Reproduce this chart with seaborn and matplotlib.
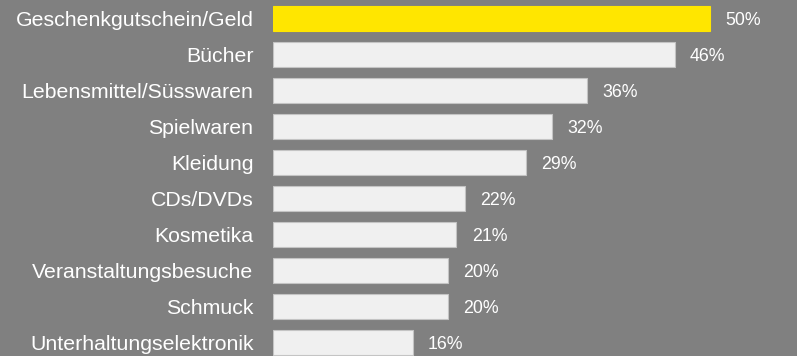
import matplotlib
matplotlib.use("Agg")
import matplotlib.pyplot as plt
import seaborn as sns
import pandas as pd

categories = [
    "Geschenkgutschein/Geld",
    "Bücher",
    "Lebensmittel/Süsswaren",
    "Spielwaren",
    "Kleidung",
    "CDs/DVDs",
    "Kosmetika",
    "Veranstaltungsbesuche",
    "Schmuck",
    "Unterhaltungselektronik",
]
values = [50, 46, 36, 32, 29, 22, 21, 20, 20, 16]
value_labels = ["50%", "46%", "36%", "32%", "29%", "22%", "21%", "20%", "20%", "16%"]

BG = "#808080"
HIGHLIGHT = "#ffe600"
BAR = "#f0f0f0"

sns.set_theme(style="white")
plt.rcParams["font.family"] = ["Liberation Sans", "DejaVu Sans"]

df = pd.DataFrame({"category": categories, "value": values})
palette = {c: (HIGHLIGHT if i == 0 else BAR) for i, c in enumerate(categories)}

fig = plt.figure(figsize=(7.97, 3.56), dpi=100, facecolor=BG)
ax = fig.add_axes([273 / 797, 0, 1 - 273 / 797, 1])
ax.set_facecolor(BG)

sns.barplot(data=df, x="value", y="category", hue="category", palette=palette,
            legend=False, orient="h", width=0.68, ax=ax, saturation=1)

for i, patch in enumerate(ax.patches):
    patch.set_edgecolor(HIGHLIGHT if i == 0 else "#c4c4c4")
    patch.set_linewidth(0.8)

for container, lab in zip(ax.containers, value_labels):
    texts = ax.bar_label(container, labels=[lab], padding=11, color="white", fontsize=12.8)
    for t in texts:
        dx, dy = t.xyann
        t.xyann = (dx, dy - 1.5)

ax.set_xlim(0, 60)
ax.set_ylim(9.375, -0.514)
ax.set_xlabel("")
ax.set_ylabel("")
ax.set_xticks([])
ax.tick_params(axis="y", length=0, pad=14, labelcolor="white", labelsize=15.3)
for s in ax.spines.values():
    s.set_visible(False)

fig.savefig("out.png", dpi=100, facecolor=BG)
